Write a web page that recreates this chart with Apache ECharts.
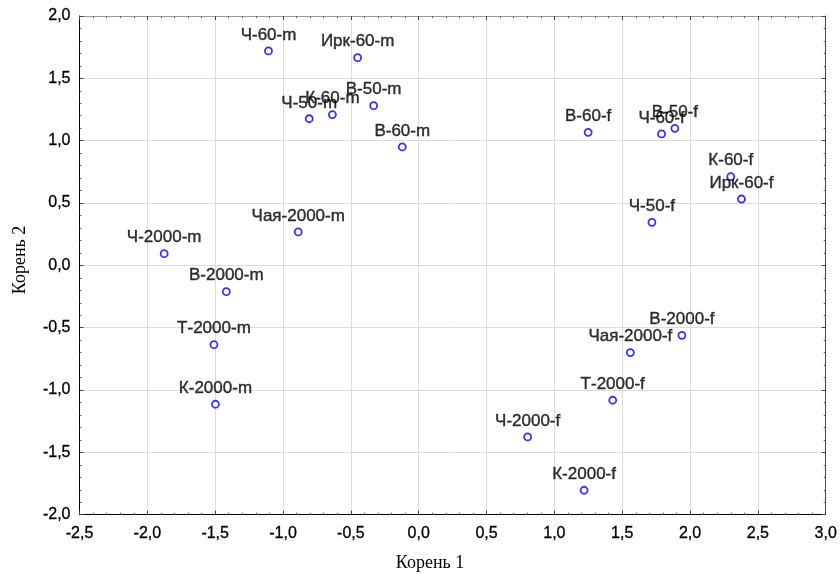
<!DOCTYPE html>
<html>
<head>
<meta charset="utf-8">
<script src="https://cdn.jsdelivr.net/npm/echarts@6/dist/echarts.min.js"></script>
<style>
  html, body { margin: 0; padding: 0; background: #fff; }
  #chart { width: 840px; height: 574px; }
</style>
</head>
<body>
<div id="chart"></div>
<script>
// canonical scores, root 1 / root 2
const names = [
  'Ч-60-m', 'Ирк-60-m', 'В-50-m', 'Ч-50-m', 'К-60-m', 'В-60-m',
  'В-60-f', 'Ч-60-f', 'В-50-f', 'К-60-f', 'Ирк-60-f', 'Ч-50-f',
  'Чая-2000-m', 'Ч-2000-m', 'В-2000-m', 'Т-2000-m', 'К-2000-m',
  'В-2000-f', 'Чая-2000-f', 'Т-2000-f', 'Ч-2000-f', 'К-2000-f'
];
const root1 = [
  -1.107, -0.45, -0.332, -0.807, -0.636, -0.121,
  1.249, 1.79, 1.888, 2.30, 2.379, 1.719,
  -0.888, -1.876, -1.418, -1.509, -1.498,
  1.94, 1.56, 1.43, 0.803, 1.219
];
const root2 = [
  1.72, 1.666, 1.281, 1.176, 1.209, 0.95,
  1.067, 1.054, 1.099, 0.711, 0.532, 0.345,
  0.268, 0.094, -0.211, -0.636, -1.114,
  -0.561, -0.70, -1.082, -1.376, -1.804
];
const xTicks = { min: -2.5, max: 3.0, step: 0.5 };
const yTicks = { min: -2.0, max: 2.0, step: 0.5 };

const comma = v => v.toFixed(1).replace('.', ',');

const chart = echarts.init(document.getElementById('chart'));

// slightly heavier text, like the original's rendering
const tickFont = { fontFamily: 'Liberation Sans', fontSize: 16, color: '#000', textBorderColor: '#000', textBorderWidth: 0.3 };

function frameAxis(pos, isMain) {
  return {
    type: 'value',
    position: pos,
    axisLine: { show: true, onZero: false, lineStyle: { color: isMain ? '#000' : (pos === 'top' ? '#999' : '#444'), width: 1 } },
    axisTick: { show: true, inside: true, length: 4, lineStyle: { color: '#444' } },
    minorTick: { show: true, splitNumber: 5, length: 2, lineStyle: { color: '#666' } },
    splitLine: { show: isMain, lineStyle: { color: '#dcdcdc', width: 1 } },
    axisLabel: isMain ? Object.assign({ formatter: comma, margin: 10 }, tickFont) : { show: false }
  };
}

const xMain = Object.assign(frameAxis('bottom', true), { min: xTicks.min, max: xTicks.max, interval: xTicks.step });
const xTop = Object.assign(frameAxis('top', false), { min: xTicks.min, max: xTicks.max, interval: xTicks.step });
const yMain = Object.assign(frameAxis('left', true), { min: yTicks.min, max: yTicks.max, interval: yTicks.step });
const yRight = Object.assign(frameAxis('right', false), { min: yTicks.min, max: yTicks.max, interval: yTicks.step });
xMain.axisLabel.margin = 11;
yMain.axisLabel.margin = 9;

const points = names.map((n, i) => [root1[i], root2[i], n]);

chart.setOption({
  animation: false,
  backgroundColor: '#fff',
  grid: { left: 79.5, right: 13.5, top: 16, bottom: 59.3, containLabel: false },
  xAxis: [xMain, xTop],
  yAxis: [yMain, yRight],
  graphic: [
    {
      type: 'text', x: 430, y: 563,
      style: { text: 'Корень 1', font: '18px "Liberation Serif"', fill: '#000', align: 'center', verticalAlign: 'middle' }
    },
    {
      type: 'text', x: 20, y: 260, rotation: Math.PI / 2,
      style: { text: 'Корень 2', font: '18px "Liberation Serif"', fill: '#000', align: 'center', verticalAlign: 'middle' }
    }
  ],
  series: [{
    type: 'scatter',
    xAxisIndex: 0,
    yAxisIndex: 0,
    data: points,
    symbol: 'circle',
    symbolSize: 7,
    itemStyle: { color: '#fff', borderColor: '#0000ff', borderWidth: 1.8 },
    label: {
      show: true,
      position: 'top',
      distance: 3,
      formatter: p => p.data[2],
      fontFamily: 'Liberation Sans',
      fontSize: 17,
      color: '#000',
      textBorderColor: '#000',
      textBorderWidth: 0.4
    },
    emphasis: { disabled: true }
  }]
});
</script>
</body>
</html>
